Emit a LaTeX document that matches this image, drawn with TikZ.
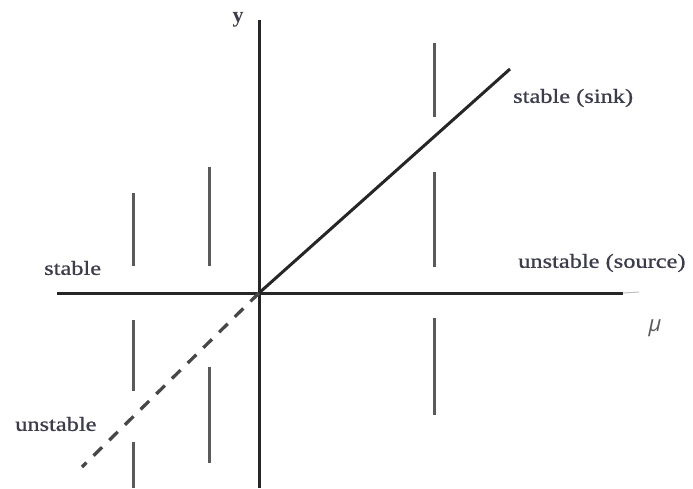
\documentclass[tikz,border=0pt]{standalone}
\usepackage{fontspec}
\setmainfont{Liberation Serif}
\newfontfamily\lblfont{Liberation Serif}[FakeBold=0.8]
\newfontfamily\mufont{Open Sans}
\definecolor{txt}{HTML}{3C3C4C}
\definecolor{axis}{HTML}{262626}
\definecolor{seg}{HTML}{5A5A5A}
\begin{document}
\begin{tikzpicture}[x=1pt,y=-1pt,
  axisline/.style={draw=axis,line width=3pt},
  segline/.style={draw=seg,line width=3pt},
  dashline/.style={draw=axis!85,line width=3.3pt,dash pattern=on 12pt off 10pt},
  lbl/.style={inner sep=0pt,text=txt,font=\fontsize{20}{24}\lblfont}]
\useasboundingbox (0,0) rectangle (693,488);
% axes
\coordinate (O) at (259,293);
\coordinate (ytop) at (259,20);
\coordinate (ybot) at (259,488);
\coordinate (xl) at (57,293);
\coordinate (xr) at (623,293);
\coordinate (xr2) at (639,292);
\coordinate (sink) at (510,69);
\coordinate (uns) at (82,467);
\draw[axisline] (ytop) -- (ybot);
\draw[axisline] (xl) -- (xr);
\draw[draw=gray!50,line width=1pt] (xr) -- (xr2);
\draw[axisline] (O) -- (sink);
\draw[dashline] (O) -- (uns);
% vertical segments
\coordinate (a1) at (434,43); \coordinate (a2) at (434,117);
\coordinate (a3) at (434,172); \coordinate (a4) at (434,267);
\coordinate (a5) at (434,318); \coordinate (a6) at (434,415);
\coordinate (b1) at (209,167); \coordinate (b2) at (209,266);
\coordinate (b3) at (209,367); \coordinate (b4) at (209,463);
\coordinate (c1) at (133,193); \coordinate (c2) at (133,266);
\coordinate (c3) at (133,320); \coordinate (c4) at (133,391);
\coordinate (c5) at (133,442); \coordinate (c6) at (133,488);
\draw[segline] (a1) -- (a2);
\draw[segline] (a3) -- (a4);
\draw[segline] (a5) -- (a6);
\draw[segline] (b1) -- (b2);
\draw[segline] (b3) -- (b4);
\draw[segline] (c1) -- (c2);
\draw[segline] (c3) -- (c4);
\draw[segline] (c5) -- (c6);
% labels
\node[inner sep=0pt,text=txt,font=\fontsize{22}{26}\selectfont\bfseries] (ylab) at (238,20) {y};
\node[lbl,anchor=west] (lsink) at (513,98) {\scalebox{1.22}[1]{stable (sink)}};
\node[lbl,anchor=west] (lsource) at (518,263) {\scalebox{1.22}[1]{unstable (source)}};
\node[lbl,anchor=west] (lstable) at (44,268) {\scalebox{1.22}[1]{stable}};
\node[lbl,anchor=west] (lunstable) at (15,424) {\scalebox{1.22}[1]{unstable}};
\node[inner sep=0pt,text=seg,font=\fontsize{22}{26}\selectfont\mufont\itshape] (mu) at (655,328) {μ};
\end{tikzpicture}
\end{document}
